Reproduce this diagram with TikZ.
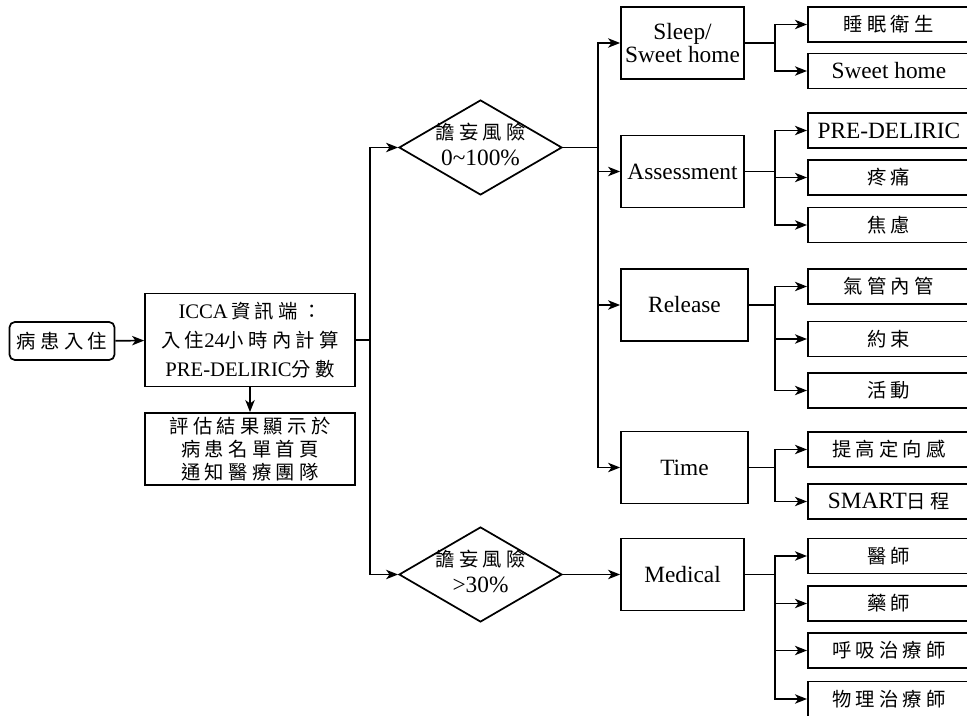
\documentclass[tikz,border=0pt]{standalone}
\usepackage{fontspec}
\setmainfont{Liberation Serif}
\newfontfamily\cjkf[LetterSpace=22]{Noto Sans CJK TC}
\newcommand\zhtext[1]{{\fontsize{14.5pt}{14.5pt}\cjkf #1}}
\usetikzlibrary{shapes.geometric,arrows.meta}
\begin{document}
\begin{tikzpicture}[x=0.75pt,y=-0.75pt,
  line width=1.3pt,
  sz/.style 2 args={minimum width=#1*0.75pt, minimum height=#2*0.75pt},
  box/.style={draw, rectangle, inner sep=0pt, align=center, font=\fontsize{17.5pt}{17.5pt}\selectfont},
  leaf/.style={box, sz={162}{35}, anchor=west},
  cat/.style={box, sz={123}{72}},
  catw/.style={box, sz={127}{72}},
  dia/.style={draw, diamond, inner sep=0pt, sz={163}{95}, font=\fontsize{17.5pt}{19.5pt}\selectfont},
  arr/.style={-{Stealth[length=9pt,width=7pt,inset=2.5pt]}},
]
\useasboundingbox (0,0) rectangle (967,716);
\clip (0,0) rectangle (967,716);

% left part
\node[box, rounded corners=4pt, sz={105}{38}] (start) at (62,341) {\zhtext{病患入住}};
\node[box, sz={210}{93}, font=\fontsize{15.5pt}{21.5pt}\selectfont] (icca) at (250,340) {ICCA\,\zhtext{資訊端：}\\\zhtext{入住}24\zhtext{小時內計算}\\PRE-DELIRIC\zhtext{分數}};
\node[box, sz={210}{72}, font=\fontsize{15.5pt}{17pt}\selectfont] (eval) at (250,449) {\zhtext{評估結果顯示於}\\\zhtext{病患名單首頁}\\\zhtext{通知醫療團隊}};

% diamonds
\node[dia] (d1) at (480.5,147.5) {\makebox[0pt]{\begin{tabular}{@{}c@{}}\zhtext{譫妄風險}\\0\textasciitilde100\%\end{tabular}}};
\node[dia] (d2) at (480.5,574.5) {\makebox[0pt]{\begin{tabular}{@{}c@{}}\zhtext{譫妄風險}\\>30\%\end{tabular}}};

% categories
\node[cat] (sleep) at (682.5,43) {Sleep/\\Sweet home};
\node[cat] (assess) at (682.5,171.5) {Assessment};
\node[catw] (release) at (684.5,305) {Release};
\node[catw] (time) at (684.5,467.5) {Time};
\node[cat] (medical) at (682.5,574.5) {Medical};

% leaves
\node[leaf] (l1) at (807,24.5) {\zhtext{睡眠衛生}};
\node[leaf] (l2) at (807,71) {Sweet home};
\node[leaf] (l3) at (807,130.5) {PRE-DELIRIC};
\node[leaf] (l4) at (807,177.5) {\zhtext{疼痛}};
\node[leaf] (l5) at (807,225) {\zhtext{焦慮}};
\node[leaf] (l6) at (807,286.5) {\zhtext{氣管內管}};
\node[leaf] (l7) at (807,339) {\zhtext{約束}};
\node[leaf] (l8) at (807,390.5) {\zhtext{活動}};
\node[leaf] (l9) at (807,449.5) {\zhtext{提高定向感}};
\node[leaf] (l10) at (807,501.5) {SMART\zhtext{日程}};
\node[leaf] (l11) at (807,556) {\zhtext{醫師}};
\node[leaf] (l12) at (807,603.5) {\zhtext{藥師}};
\node[leaf] (l13) at (807,650.5) {\zhtext{呼吸治療師}};
\node[leaf] (l14) at (807,699) {\zhtext{物理治療師}};

% junction columns
\coordinate (j1) at (370,0);
\coordinate (j2) at (598,0);
\coordinate (j3) at (775,0);

% connectors
\draw[arr] (start) -- (icca);
\draw[arr] (icca) -- (eval);
\draw (icca.east) -- (icca.east -| j1);
\draw[arr] (icca.east -| j1) |- (d1.west);
\draw[arr] (icca.east -| j1) |- (d2.west);

\draw (d1.east) -- (d1.east -| j2);
\draw[arr] (d1.east -| j2) |- (sleep.west);
\draw[arr] (d1.east -| j2) |- (assess.west);
\draw[arr] (d1.east -| j2) |- (release.west);
\draw[arr] (d1.east -| j2) |- (time.west);
\draw[arr] (d2.east) -- (medical.west);

\foreach \c/\list in {sleep/{l1,l2}, assess/{l3,l4,l5}, release/{l6,l7,l8}, time/{l9,l10}, medical/{l11,l12,l13,l14}} {
  \draw (\c.east) -- (\c.east -| j3);
  \foreach \l in \list {
    \draw[arr] (\c.east -| j3) |- (\l.west);
  }
}
\end{tikzpicture}
\end{document}
